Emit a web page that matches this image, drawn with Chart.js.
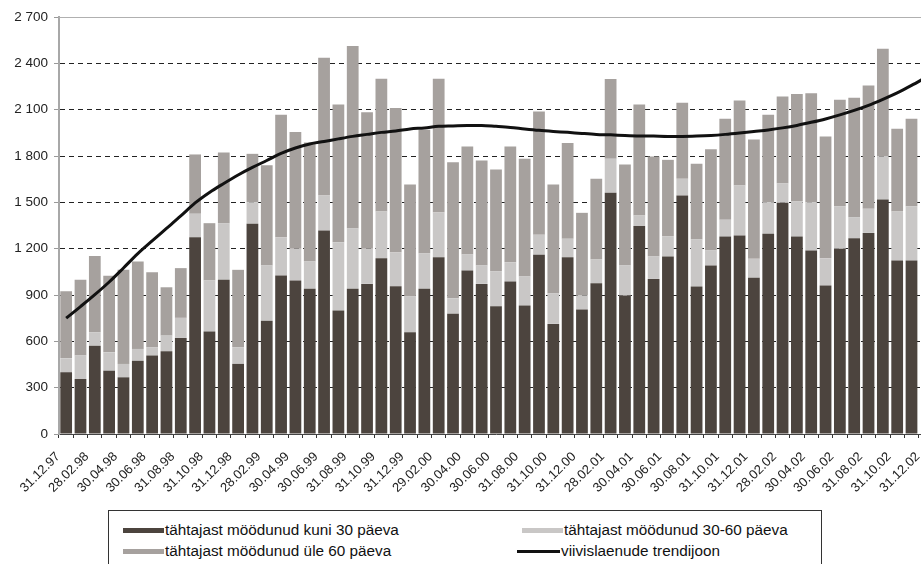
<!DOCTYPE html>
<html>
<head>
<meta charset="utf-8">
<script src="https://cdn.jsdelivr.net/npm/chart.js@4/dist/chart.umd.min.js"></script>
<style>
  html, body { margin: 0; padding: 0; background: #fff; overflow: hidden; }
  body { width: 921px; height: 564px; position: relative; font-family: 'Liberation Sans', Arial, sans-serif; }
  #wrap { position: absolute; left: 0; top: 0; width: 936px; height: 500px; }
  #legend { position: absolute; left: 108px; top: 510px; width: 712px; height: 70px; border: 1px solid #333; background: #fff; }
  .item { position: absolute; font-size: 15.3px; color: #111; white-space: nowrap; line-height: 16px; }
  .sw { position: absolute; }
</style>
</head>
<body>
<div id="wrap"><canvas id="chart" width="936" height="500"></canvas></div>
<div id="legend"></div>
<script>
// month-end dates, one bar per month
const dates = [
  '31.12.97','31.01.98','28.02.98','31.03.98','30.04.98','31.05.98','30.06.98','31.07.98','31.08.98','30.09.98',
  '31.10.98','30.11.98','31.12.98','31.01.99','28.02.99','31.03.99','30.04.99','31.05.99','30.06.99','31.07.99',
  '31.08.99','30.09.99','31.10.99','30.11.99','31.12.99','31.01.00','29.02.00','31.03.00','30.04.00','31.05.00',
  '30.06.00','31.07.00','31.08.00','30.09.00','31.10.00','30.11.00','31.12.00','31.01.01','28.02.01','31.03.01',
  '30.04.01','31.05.01','30.06.01','31.07.01','30.08.01','30.09.01','31.10.01','30.11.01','31.12.01','31.01.02',
  '28.02.02','31.03.02','30.04.02','31.05.02','30.06.02','31.07.02','31.08.02','30.09.02','31.10.02','30.11.02',
  '31.12.02'
];

// overdue up to 30 days
const upTo30 = [
  400, 356, 572, 410, 367, 475, 508, 536, 622, 1274,
  663, 998, 454, 1361, 734, 1026, 994, 940, 1318, 799,
  940, 972, 1138, 957, 659, 940, 1145, 778, 1058, 972,
  827, 987, 832, 1160, 713, 1145, 806, 976, 1562, 896,
  1346, 1004, 1149, 1544, 955, 1091, 1279, 1285, 1011, 1296,
  1497, 1279, 1188, 961, 1199, 1268, 1302, 1518, 1123, 1123,
  null
];

// overdue 30-60 days
const from30to60 = [
  90, 152, 87, 119, 87, 76, 54, 101, 130, 152,
  331, 367, 108, 140, 357, 248, 205, 177, 226, 443,
  393, 227, 303, 220, 231, 231, 291, 101, 104, 119,
  227, 125, 188, 130, 199, 119, 90, 154, 220, 195,
  69, 145, 132, 108, 304, 97, 108, 324, 123, 205,
  127, 229, 313, 177, 276, 136, 156, 279, 318, 352,
  null
];

// overdue over 60 days
const over60 = [
  435, 490, 494, 495, 609, 566, 486, 313, 322, 384,
  371, 458, 501, 313, 649, 793, 756, 770, 892, 892,
  1179, 885, 859, 933, 726, 799, 864, 881, 700, 680,
  659, 750, 762, 798, 704, 620, 536, 522, 516, 654,
  719, 648, 494, 493, 491, 655, 654, 551, 773, 566,
  562, 693, 705, 789, 689, 773, 799, 698, 535, 566,
  null
];

// trend line of overdue loans
const trend = [
  750, 825, 902, 984, 1075, 1168, 1250, 1331, 1412, 1496,
  1564, 1622, 1677, 1726, 1771, 1817, 1852, 1878, 1894, 1911,
  1927, 1940, 1953, 1962, 1975, 1982, 1992, 1995, 1998, 1998,
  1992, 1985, 1975, 1966, 1959, 1953, 1946, 1940, 1937, 1933,
  1930, 1929, 1927, 1927, 1929, 1933, 1940, 1949, 1959, 1969,
  1982, 1998, 2018, 2040, 2066, 2095, 2128, 2167, 2209, 2257,
  2309
];

const seriesNames = [
  'tähtajast möödunud kuni 30 päeva',
  'tähtajast möödunud 30-60 päeva',
  'tähtajast möödunud üle 60 päeva',
  'viivislaenude trendijoon'
];

const colors = {
  dark: '#4c443e',
  light: '#c9c7c6',
  mid: '#a6a19e',
  line: '#111111'
};

const fontFamily = "'Liberation Sans', Arial, sans-serif";

function fmt(v) {
  return String(v).replace(/\B(?=(\d{3})+(?!\d))/g, ' ');
}

const topFrame = {
  id: 'topFrame',
  beforeDatasetsDraw(chart) {
    const a = chart.chartArea;
    const ctx = chart.ctx;
    ctx.save();
    ctx.strokeStyle = '#b0b0b0';
    ctx.lineWidth = 1;
    ctx.beginPath();
    ctx.moveTo(a.left, a.top + 0.5);
    ctx.lineTo(a.right, a.top + 0.5);
    ctx.stroke();
    ctx.restore();
  }
};

const barStyle = { type: 'bar', barPercentage: 0.82, categoryPercentage: 1.0, borderWidth: 0, order: 1 };

new Chart(document.getElementById('chart'), {
  data: {
    labels: dates,
    datasets: [
      { ...barStyle, label: seriesNames[0], data: upTo30, backgroundColor: colors.dark },
      { ...barStyle, label: seriesNames[1], data: from30to60, backgroundColor: colors.light },
      { ...barStyle, label: seriesNames[2], data: over60, backgroundColor: colors.mid },
      {
        type: 'line', label: seriesNames[3], data: trend, order: 0,
        borderColor: colors.line, borderWidth: 3, pointRadius: 0,
        tension: 0.4, cubicInterpolationMode: 'monotone', fill: false
      }
    ]
  },
  options: {
    responsive: false,
    animation: false,
    layout: { padding: { top: 17, right: 3, left: 0, bottom: 0 } },
    plugins: { legend: { display: false }, tooltip: { enabled: false } },
    scales: {
      x: {
        stacked: true,
        grid: { drawOnChartArea: false, drawTicks: true, tickLength: 4, tickColor: '#333', tickWidth: 1 },
        border: { color: '#444', width: 1 },
        ticks: {
          autoSkip: false, minRotation: 45, maxRotation: 45, padding: 11, labelOffset: -8,
          color: '#222', font: { family: fontFamily, size: 13 },
          callback: (v, i) => (i % 2 === 0 ? dates[i] : '')
        },
        afterFit(scale) {
          scale.height = 66;
          scale.paddingLeft = 0;
          scale.paddingRight = 0;
        }
      },
      y: {
        stacked: true,
        min: 0,
        max: 2700,
        grid: {
          color: ctx => (ctx.tick.value === 0 || ctx.tick.value === 2700) ? 'rgba(0,0,0,0)' : '#222',
          lineWidth: 1,
          tickLength: 5,
          tickColor: '#999'
        },
        border: { color: '#a8a8a8', width: 2, dash: [5, 4] },
        ticks: {
          stepSize: 300, padding: 6, color: '#222',
          font: { family: fontFamily, size: 13.5 },
          callback: v => fmt(v)
        },
        afterFit(scale) {
          scale.width = 59;
          scale.paddingTop = 0;
          scale.paddingBottom = 0;
        }
      }
    }
  },
  plugins: [topFrame]
});

// legend in two columns, as in the reference
const legendItems = [
  { name: seriesNames[0], kind: 'box', color: colors.dark, x: 14, y: 11 },
  { name: seriesNames[1], kind: 'box', color: colors.light, x: 413, y: 11 },
  { name: seriesNames[2], kind: 'box', color: colors.mid, x: 14, y: 32 },
  { name: seriesNames[3], kind: 'line', color: colors.line, x: 408, y: 32 }
];
const legend = document.getElementById('legend');
legendItems.forEach(it => {
  const sw = document.createElement('div');
  sw.className = 'sw';
  const w = it.kind === 'line' ? 43 : 41;
  sw.style.left = it.x + 'px';
  sw.style.width = w + 'px';
  sw.style.top = (it.y + (it.kind === 'line' ? 7 : 6)) + 'px';
  sw.style.height = (it.kind === 'line' ? 3 : 5) + 'px';
  sw.style.background = it.color;
  legend.appendChild(sw);
  const t = document.createElement('div');
  t.className = 'item';
  t.style.left = (it.x + w + 1) + 'px';
  t.style.top = it.y + 'px';
  t.textContent = it.name;
  legend.appendChild(t);
});
</script>
</body>
</html>
